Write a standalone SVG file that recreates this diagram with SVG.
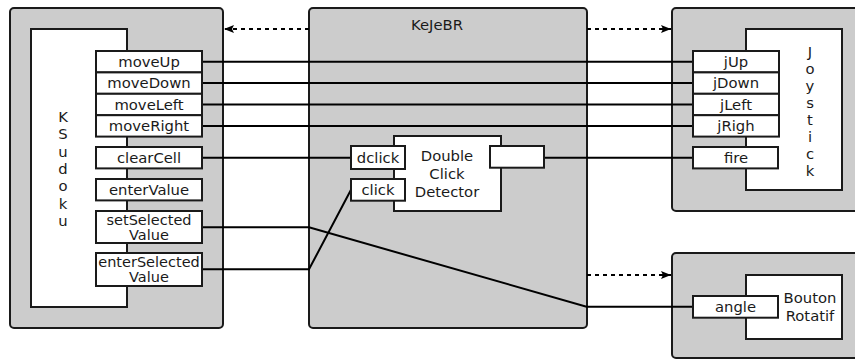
<svg xmlns="http://www.w3.org/2000/svg" width="855" height="360" viewBox="0 0 855 360">
<style>
.cont{fill:#cccccc;stroke:#1a1a1a;stroke-width:2}
.box{fill:#ffffff;stroke:#1a1a1a;stroke-width:2}
.port{fill:#ffffff;stroke:#1a1a1a;stroke-width:2}
text{font-family:"DejaVu Sans","Liberation Sans",sans-serif;font-size:14.8px;fill:#1a1a1a;text-anchor:middle}
.two{font-size:14.5px}
.wire{fill:none;stroke:#000;stroke-width:2}
.dash{fill:none;stroke:#000;stroke-width:2;stroke-dasharray:4,4}
</style>
<defs>
<marker id="ah" viewBox="0 0 10 8" refX="10" refY="4" markerWidth="10" markerHeight="8" markerUnits="userSpaceOnUse" orient="auto">
<path d="M0,0 L10,4 L0,8 L2,4 Z" fill="#000"/>
</marker>
</defs>

<g id="ksudoku-container">
<rect class="cont" x="10" y="8" width="213" height="320" rx="4"/>
</g>
<g id="kejebr">
<rect class="cont" x="309" y="8" width="278" height="320" rx="4"/>
<text x="437" y="30">KeJeBR</text>
</g>
<g id="joystick-container">
<rect class="cont" x="672" y="8" width="200" height="203" rx="4"/>
</g>
<g id="bouton-container">
<rect class="cont" x="672" y="253" width="200" height="105" rx="4"/>
</g>

<g id="ksudoku">
<rect class="box" x="31" y="29" width="96" height="278"/>
<text x="63" y="122">K</text>
<text x="63" y="139.3">S</text>
<text x="63" y="156.6">u</text>
<text x="63" y="173.9">d</text>
<text x="63" y="191.2">o</text>
<text x="63" y="208.5">k</text>
<text x="63" y="225.8">u</text>
</g>

<g id="joystick">
<rect class="box" x="746" y="29" width="96" height="161"/>
<text x="810" y="57">J</text>
<text x="810" y="74">o</text>
<text x="810" y="91">y</text>
<text x="810" y="108">s</text>
<text x="810" y="125">t</text>
<text x="810" y="142">i</text>
<text x="810" y="159">c</text>
<text x="810" y="176">k</text>
</g>

<g id="bouton-rotatif">
<rect class="box" x="746" y="275" width="96" height="64"/>
<text x="810" y="303">Bouton</text>
<text x="810" y="321">Rotatif</text>
</g>

<g id="double-click-detector">
<rect class="box" x="394" y="136" width="107" height="75"/>
<text x="447" y="160.5">Double</text>
<text x="447" y="179">Click</text>
<text x="447" y="197">Detector</text>
</g>

<g id="connectors">
<line class="dash" x1="309" y1="29" x2="224" y2="29" marker-end="url(#ah)"/>
<line class="dash" x1="587" y1="29" x2="671" y2="29" marker-end="url(#ah)"/>
<line class="dash" x1="587" y1="275" x2="671" y2="275" marker-end="url(#ah)"/>
<line class="wire" x1="202" y1="61.7" x2="693" y2="61.7"/>
<line class="wire" x1="202" y1="83.1" x2="693" y2="83.1"/>
<line class="wire" x1="202" y1="104.5" x2="693" y2="104.5"/>
<line class="wire" x1="202" y1="125.9" x2="693" y2="125.9"/>
<line class="wire" x1="202" y1="157.7" x2="351" y2="157.7"/>
<line class="wire" x1="544" y1="157.7" x2="693" y2="157.7"/>
<polyline class="wire" points="202,227.3 309,227.3 586.5,306.7 693,306.7"/>
<polyline class="wire" points="202,269.3 309,269.3 351,189.8"/>
</g>

<g id="ksudoku-ports">
<g id="port-moveUp"><rect class="port" x="96" y="51" width="106" height="21.4"/><text x="149" y="66.7">moveUp</text></g>
<g id="port-moveDown"><rect class="port" x="96" y="72.4" width="106" height="21.4"/><text x="149" y="88.1">moveDown</text></g>
<g id="port-moveLeft"><rect class="port" x="96" y="93.8" width="106" height="21.4"/><text x="149" y="109.5">moveLeft</text></g>
<g id="port-moveRight"><rect class="port" x="96" y="115.2" width="106" height="21.4"/><text x="149" y="130.9">moveRight</text></g>
<g id="port-clearCell"><rect class="port" x="96" y="147" width="106" height="21.4"/><text x="149" y="162.7">clearCell</text></g>
<g id="port-enterValue"><rect class="port" x="96" y="179" width="106" height="21.4"/><text x="149" y="194.7">enterValue</text></g>
<g id="port-setSelectedValue"><rect class="port" x="96" y="211" width="106" height="32"/><text class="two" x="149" y="224.5">setSelected</text><text class="two" x="149" y="239.7">Value</text></g>
<g id="port-enterSelectedValue"><rect class="port" x="96" y="253" width="106" height="33"/><text class="two" x="149" y="267">enterSelected</text><text class="two" x="149" y="282.2">Value</text></g>
</g>

<g id="joystick-ports">
<g id="port-jUp"><rect class="port" x="693" y="51" width="86" height="21.4"/><text x="736" y="66.7">jUp</text></g>
<g id="port-jDown"><rect class="port" x="693" y="72.4" width="86" height="21.4"/><text x="736" y="88.1">jDown</text></g>
<g id="port-jLeft"><rect class="port" x="693" y="93.8" width="86" height="21.4"/><text x="736" y="109.5">jLeft</text></g>
<g id="port-jRigh"><rect class="port" x="693" y="115.2" width="86" height="21.4"/><text x="736" y="130.9">jRigh</text></g>
<g id="port-fire"><rect class="port" x="693" y="147" width="85" height="21.4"/><text x="736" y="162.7">fire</text></g>
</g>

<g id="detector-ports">
<g id="port-dclick"><rect class="port" x="351" y="146" width="54" height="23"/><text x="378" y="162.5">dclick</text></g>
<g id="port-click"><rect class="port" x="351" y="179" width="54" height="21.7"/><text x="378" y="194.8">click</text></g>
<g id="port-out"><rect class="port" x="490" y="146" width="54" height="21.7"/></g>
</g>

<g id="bouton-ports">
<g id="port-angle"><rect class="port" x="693" y="296" width="85" height="21.7"/><text x="735.5" y="312">angle</text></g>
</g>
</svg>
